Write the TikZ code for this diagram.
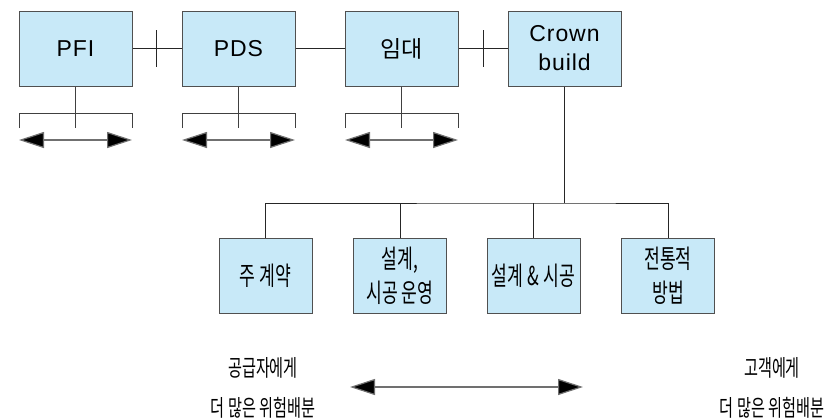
\documentclass[tikz,border=0pt]{standalone}
\usepackage{fontspec}
\setmainfont{Noto Sans CJK KR}
\newfontfamily\latinsf[LetterSpace=4]{Liberation Sans}
\newfontfamily\narrowkr[FakeStretch=0.66]{Noto Sans CJK KR}
\usetikzlibrary{arrows.meta}
\definecolor{boxfill}{HTML}{C8E9F8}
\definecolor{boxline}{HTML}{505050}
\definecolor{arrline}{HTML}{707070}
\tikzset{
  box/.style={draw=boxline, line width=1pt, fill=boxfill, minimum width=113pt,
    minimum height=75pt, inner sep=0pt, align=center},
  topbox/.style={box, font=\fontsize{23}{29}\selectfont},
  lowbox/.style={box, minimum width=93pt, font=\narrowkr\fontsize{26}{34}\selectfont},
  link/.style={draw=black!85, line width=0.8pt},
  tickmark/.style={draw=black!85, line width=0.8pt},
  bracket/.style={draw=black!75, line width=0.9pt},
  spanarrow/.style={draw=arrline, line width=1.2pt,
    {Triangle[length=25pt,width=16pt,fill=black]}-{Triangle[length=25pt,width=16pt,fill=black]}},
  note/.style={align=center, font=\narrowkr\fontsize{23}{40}\selectfont}
}
\begin{document}
\begin{tikzpicture}[x=1pt,y=-1pt]
\useasboundingbox (0,0) rectangle (836,418);
% upper row
\node[topbox] (pfi) at (75.5,48.5) {\latinsf PFI};
\node[topbox] (pds) at (238.5,48.5) {\latinsf PDS};
\node[topbox] (lease) at (401.5,48.5) {임대};
\node[topbox] (crown) at (564.5,48.5) {\latinsf Crown\\\latinsf build};
% links between upper boxes, with cross ticks
\draw[link] (pfi) -- (pds);
\draw[link] (pds) -- (lease);
\draw[link] (lease) -- (crown);
\draw[tickmark] (156.5,30) -- (156.5,67);
\draw[tickmark] (483,30) -- (483,67);
% bracket and double arrow under each of the first three boxes
\foreach \b in {pfi,pds,lease}{
  \coordinate (\b-l) at ([xshift=-56.5pt]\b.south |- 0,113);
  \coordinate (\b-r) at ([xshift=56.5pt]\b.south |- 0,113);
  \draw[bracket] (\b.south) -- (\b.south |- 0,128);
  \draw[bracket] ([yshift=-15pt]\b-l) -- (\b-l) -- (\b-r) -- ([yshift=-15pt]\b-r);
  \draw[spanarrow] ([yshift=-27pt]\b-l) -- ([yshift=-27pt]\b-r);
}
% lower row
\node[lowbox] (main) at (265.5,275.5) {주 계약};
\node[lowbox] (dbo) at (400,275.5) {설계,\\시공 운영};
\node[lowbox] (db) at (533.5,275.5) {설계\,\&\,시공};
\node[lowbox] (trad) at (668,275.5) {전통적\\방법};
% tree from Crown build down to the lower row
\coordinate (split) at (564.5,203);
\draw[link] (crown.south) -- (split);
\draw[link] (main.north) |- (split) -| (trad.north);
\draw[link] (dbo.north) -- (dbo.north |- split);
\draw[link] (db.north) -- (db.north |- split);
% risk allocation scale
\node[note] (supplier) at (263,388) {공급자에게\\더 많은 위험배분};
\node[note] (client) at (772,388) {고객에게\\더 많은 위험배분};
\coordinate (scaleL) at (350,387);
\coordinate (scaleR) at (583,387);
\draw[spanarrow] (scaleL) -- (scaleR);
\end{tikzpicture}
\end{document}
